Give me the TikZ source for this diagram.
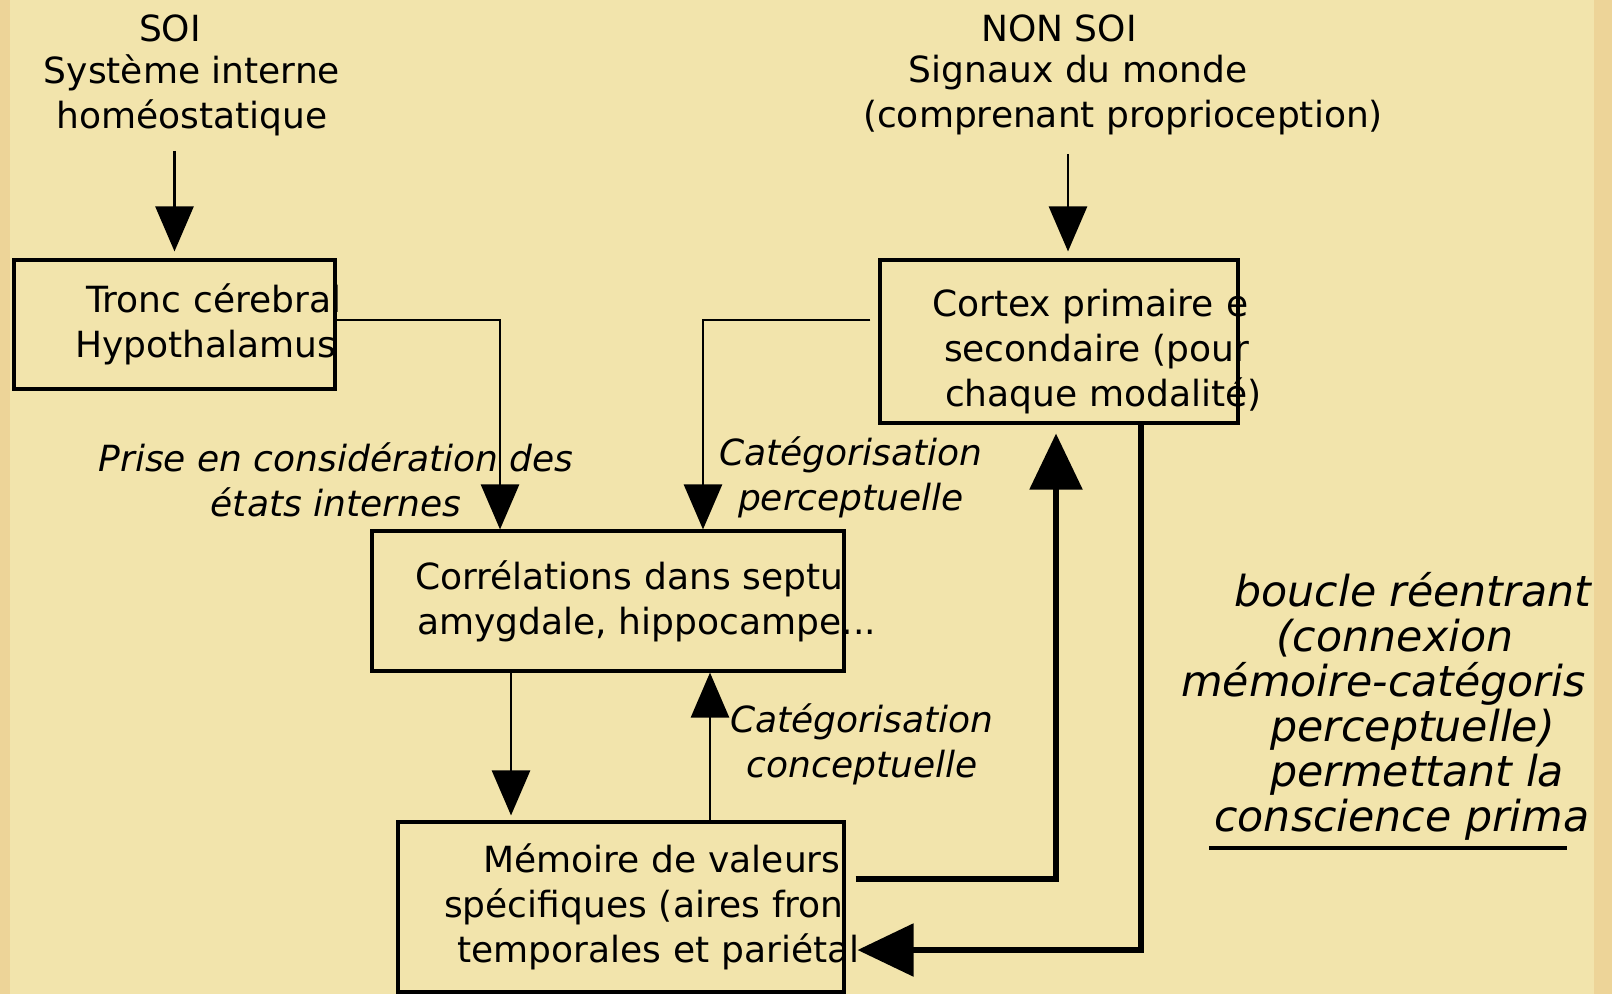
\documentclass[tikz,border=0pt]{standalone}
\usepackage{fontspec}
\setmainfont{DejaVu Sans}
\usetikzlibrary{arrows.meta,positioning}
\setlength{\parindent}{0pt}
\definecolor{fond}{RGB}{242,228,172}
\definecolor{bord}{RGB}{237,212,152}
\newcommand{\ligne}[2]{\hspace*{#1}\mbox{#2}}

\begin{document}
\begin{tikzpicture}[x=0.02cm, y=-0.02cm,
    box/.style={rectangle, draw, line width=1.8pt, inner sep=0pt, align=left,
        font=\fontsize{20.5}{25.6}\selectfont},
    txt/.style={inner sep=0pt, align=center, font=\fontsize{20.5}{25.6}\selectfont},
    fleche/.style={line width=1.5pt, -{Triangle[length=0.9cm, width=0.76cm]}},
    grosse/.style={line width=3.2pt, -{Triangle[length=1.12cm, width=1.04cm]}}]

    	%-----Fond-----
        \fill[fond] (0,0) rectangle (1612,994);
        \fill[bord] (0,0) rectangle (10,994);

    	%-----Boites-----
        % Tronc cerebral
        \node [box, text width=6.42cm, minimum height=2.58cm] (tronc) at (174.5,324.5) {%
            \ligne{1.44cm}{Tronc cérebral} \\
            \ligne{1.22cm}{Hypothalamus}
        };

        % Cortex
        \node [box, text width=7.16cm, minimum height=3.26cm] (cortex) at (1059,341.5) {%
            \vspace*{0.06cm}
            \ligne{1.04cm}{Cortex primaire e} \\
            \ligne{1.28cm}{secondaire (pour} \\
            \ligne{1.30cm}{chaque modalité)}
        };

        % Correlations
        \node [box, text width=9.44cm, minimum height=2.8cm] (correl) at (608,601) {%
            \ligne{0.86cm}{Corrélations dans septu} \\
            \ligne{0.90cm}{amygdale, hippocampe...}
        };

        % Memoire
        \node [box, text width=8.92cm, minimum height=3.4cm] (memoire) at (621,907) {%
            \ligne{1.70cm}{Mémoire de valeurs} \\
            \ligne{0.92cm}{spécifiques (aires fron} \\
            \ligne{1.18cm}{temporales et pariétal}
        };

    	%-----Textes-----
        \node [txt] (soi) at (170,28) {SOI};
        \node [txt] (soidesc) at (192,95) {Système interne \\ homéostatique};
        \node [txt] (nonsoi) at (1059,28) {NON SOI};
        \node [txt] (signaux) at (1078,73) {Signaux du monde};
        \node [txt] (compr) at (1123,118) {(comprenant proprioception)};

        \node [txt, font=\fontsize{20.5}{25.6}\selectfont\itshape] (prise) at (336,480) {%
            Prise en considération des \\ états internes};
        \node [txt, font=\fontsize{20.5}{25.6}\selectfont\itshape] (catperc) at (851,477) {%
            Catégorisation \\ perceptuelle};
        \node [txt, font=\fontsize{20.5}{25.6}\selectfont\itshape] (catconc) at (862,744) {%
            Catégorisation \\ conceptuelle};

        % boucle reentrante
        \node [txt, anchor=west, align=left, font=\fontsize{24.3}{25.6}\selectfont\itshape] (reentr) at (1181,706) {%
            \ligne{1.06cm}{boucle réentrant} \\
            \ligne{1.90cm}{(connexion} \\
            mémoire-catégoris \\
            \ligne{1.78cm}{perceptuelle)} \\
            \ligne{1.78cm}{permettant la} \\
            \ligne{0.66cm}{conscience prima}
        };
        \draw [line width=2pt] (1209,848) -- (1567,848);

    	%-----Fleches-----
        \draw [fleche, shorten <=0.3cm, shorten >=0.14cm] (soidesc.south -| tronc.north) -- (tronc.north);
        \draw [fleche, shorten <=0.36cm, shorten >=0.14cm] ([xshift=0.18cm]cortex.north |- compr.south) -- ([xshift=0.18cm]cortex.north);
        \draw [fleche] ([yshift=0.09cm]tronc.east) -| ([xshift=-2.16cm]correl.north);
        \draw [fleche] ([yshift=0.43cm, xshift=-0.16cm]cortex.west) -| ([xshift=1.9cm]correl.north);
        \draw [fleche, shorten >=0.1cm] ([xshift=-1.94cm]correl.south) -- ([xshift=-1.94cm]correl.south |- memoire.north);
        \draw [fleche] ([xshift=2.04cm]correl.south |- memoire.north) -- ([xshift=2.04cm]correl.south);
        \draw [grosse, shorten >=0.18cm] ([xshift=0.2cm, yshift=0.56cm]memoire.east) -| ([xshift=-0.06cm]cortex.south);
        \draw [grosse] ([xshift=1.64cm]cortex.south) |- ([xshift=0.24cm, yshift=-0.86cm]memoire.east);

        % bord droit
        \fill[bord] (1594,0) rectangle (1612,994);

\end{tikzpicture}
\end{document}
